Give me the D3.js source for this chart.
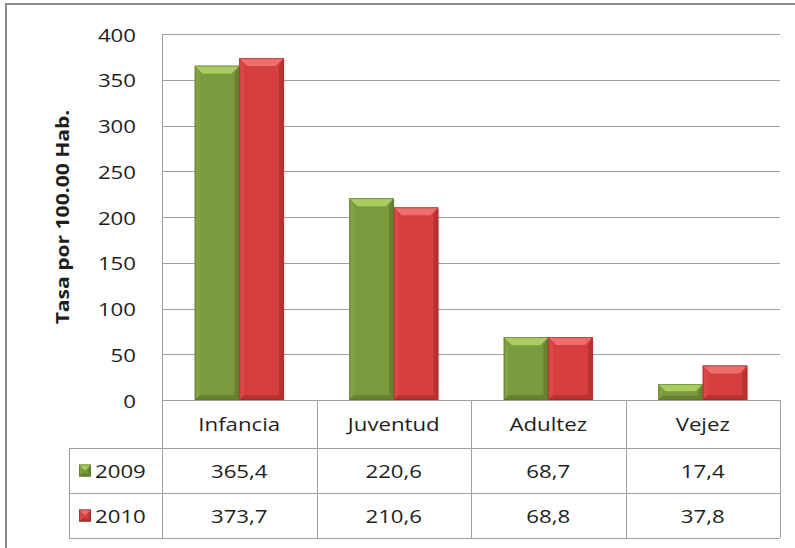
<!DOCTYPE html>
<html><head><meta charset="utf-8">
<script src="https://cdn.jsdelivr.net/npm/d3@7"></script>
<style>body{margin:0;background:#fff}svg{display:block}text{font-family:"Open Sans",sans-serif;fill:#1e1e1e}</style>
</head><body><svg id="c" width="795" height="548"></svg>
<script>
const categories = ["Infancia","Juventud","Adultez","Vejez"];
const seriesNames = ["2009","2010"];
const values2009 = [365.4,220.6,68.7,17.4];
const values2010 = [373.7,210.6,68.8,37.8];
const valueLabels2009 = ["365,4","220,6","68,7","17,4"];
const valueLabels2010 = ["373,7","210,6","68,8","37,8"];
const yTicks = [0,50,100,150,200,250,300,350,400];
const yTitle = "Tasa por 100.00 Hab.";

const svg = d3.select("#c");
const L=162,R=780,T=34,B=400;
const rowH=[48,45,45];
const tableLeft=69;
const FS=19, SX=1.17;
const col = {
  "2009":{base:"#7a9a3e",top:"#a9cd60",light:"#82a244",dark:"#66822f",edge:"#56702a"},
  "2010":{base:"#d63f3f",top:"#ee6e6e",light:"#dc4848",dark:"#b83232",edge:"#8f2424"}
};
const y=d3.scaleLinear().domain([0,400]).range([B,T]);
const x=d3.scaleBand().domain(categories).range([L,R]);
const xs=d3.scaleBand().domain(seriesNames).range([0,89]);

function txt(g,tx,ty,s,anchor,size,weight,rot){
  return g.append("text").attr("transform",`translate(${tx},${ty})${rot?` rotate(${rot})`:""} scale(${SX},1)`)
   .attr("text-anchor",anchor||"start").style("font-size",(size||FS)+"px").style("font-weight",weight||400).text(s);
}

// frame
svg.append("path").attr("d",`M6,548 V4 H795`).attr("fill","none").attr("stroke","#8c8c8c").attr("stroke-width",2);

// gridlines
svg.append("g").selectAll("line").data(yTicks.filter(d=>d>0)).join("line")
 .attr("x1",L).attr("x2",R).attr("y1",d=>Math.round(y(d))+0.5).attr("y2",d=>Math.round(y(d))+0.5)
 .attr("stroke","#a0a0a0").attr("stroke-width",1);

// y axis ticks labels (via axis, then restyled)
const ya=d3.axisLeft(y).tickValues(yTicks).tickSize(0).tickPadding(26);
const gy=svg.append("g").attr("transform",`translate(${L},0)`).call(ya);
gy.select(".domain").remove();
gy.selectAll(".tick text").each(function(d){
  const t=d3.select(this);
  t.attr("x",null).attr("dy",null).attr("fill",null)
   .attr("transform",`translate(-26,${7}) scale(${SX},1)`)
   .style("font-size",FS+"px").style("font-family","'Open Sans',sans-serif");
});

// y title
txt(svg,69,217,yTitle,"middle",18,700,-90);

// bars
function bevelBar(g,x0,w,yTop,yBot,c){
  const h=yBot-yTop; const b=Math.min(8,h/2.2);
  g.append("rect").attr("x",x0).attr("y",yTop).attr("width",w).attr("height",h).attr("fill",c.base);
  g.append("polygon").attr("points",`${x0},${yTop} ${x0+b*0.6},${yTop+b} ${x0+b*0.6},${yBot-b*0.6} ${x0},${yBot}`).attr("fill",c.light);
  g.append("polygon").attr("points",`${x0+w},${yTop} ${x0+w-b*0.6},${yTop+b} ${x0+w-b*0.6},${yBot-b*0.6} ${x0+w},${yBot}`).attr("fill",c.dark);
  g.append("polygon").attr("points",`${x0},${yBot} ${x0+b*0.6},${yBot-b*0.6} ${x0+w-b*0.6},${yBot-b*0.6} ${x0+w},${yBot}`).attr("fill",c.dark);
  g.append("polygon").attr("points",`${x0},${yTop} ${x0+w},${yTop} ${x0+w-b},${yTop+b} ${x0+b},${yTop+b}`).attr("fill",c.top);
  g.append("rect").attr("x",x0+0.5).attr("y",yTop+0.5).attr("width",w-1).attr("height",h-1).attr("fill","none").attr("stroke",c.edge).attr("stroke-opacity",0.55);
}
const data=[values2009,values2010];
const barsG=svg.append("g");
categories.forEach((cat,i)=>{
  const gx=x(cat)+x.bandwidth()/2-44.5;
  seriesNames.forEach((s,j)=>{
    const v=data[j][i];
    barsG.append("rect").attr("x",gx+xs(s)+2).attr("y",y(v)+2).attr("width",xs.bandwidth()).attr("height",B-y(v)-2).attr("fill","#000").attr("opacity",0.08);
    bevelBar(barsG,gx+xs(s),xs.bandwidth(),y(v),B,col[s]);
  });
});

// table
const tg=svg.append("g").attr("stroke","#a0a0a0").attr("stroke-width",1);
const r1=B+rowH[0], r2=r1+rowH[1], r3=r2+rowH[2];
tg.append("line").attr("x1",L).attr("x2",R).attr("y1",B+0.5).attr("y2",B+0.5);
[r1,r2,r3].forEach(yy=>tg.append("line").attr("x1",tableLeft).attr("x2",R).attr("y1",yy+0.5).attr("y2",yy+0.5));
tg.append("line").attr("x1",L+0.5).attr("x2",L+0.5).attr("y1",T).attr("y2",r3);
tg.append("line").attr("x1",tableLeft+0.5).attr("x2",tableLeft+0.5).attr("y1",r1).attr("y2",r3);
categories.forEach(cat=>{const xx=Math.round(x(cat)+x.bandwidth())+0.5;
  tg.append("line").attr("x1",xx).attr("x2",xx).attr("y1",B).attr("y2",r3);});

const catG=svg.append("g");
categories.forEach(c=>txt(catG,x(c)+x.bandwidth()/2,B+rowH[0]/2+7,c,"middle"));
const labels=[valueLabels2009,valueLabels2010];
[r1,r2].forEach((ry,j)=>{
  const vg=svg.append("g");
  labels[j].forEach((lab,i)=>txt(vg,x(categories[i])+x.bandwidth()/2,ry+rowH[j+1]/2+7,lab,"middle"));
  const s=seriesNames[j]; const mg=svg.append("g");
  bevelBar(mg,79,12,ry+rowH[j+1]/2-6,ry+rowH[j+1]/2+6,col[s]);
  txt(svg,95,ry+rowH[j+1]/2+7,s,"start");
});
</script></body></html>
